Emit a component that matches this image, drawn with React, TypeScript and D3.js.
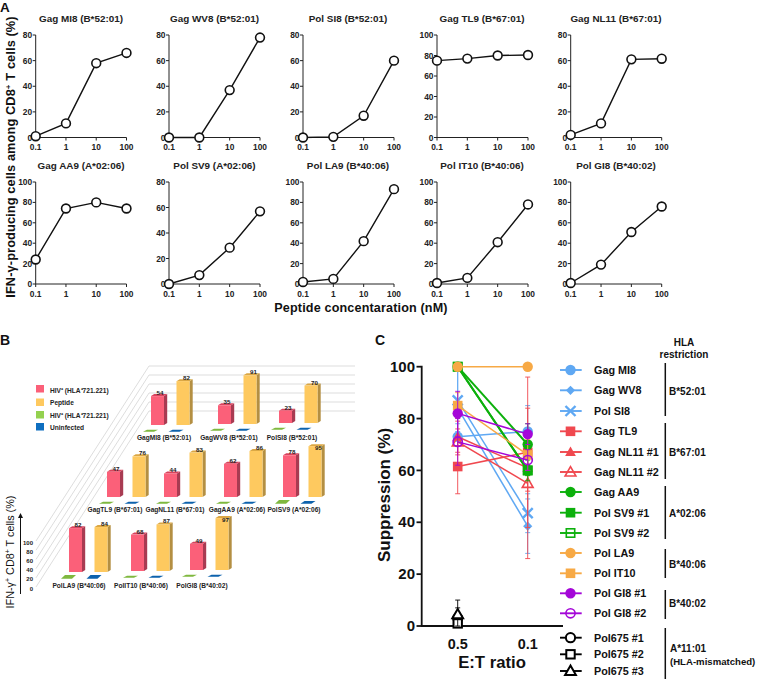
import React from 'react';
import * as d3 from 'd3';

const FONT = '"Liberation Sans", Arial, sans-serif';

// ---------- Panel A data ----------
const doses = [0.1, 1, 10, 100];
const doseLabels = ['0.1', '1', '10', '100'];
const titlesA = ['Gag MI8 (B*52:01)', 'Gag WV8 (B*52:01)', 'Pol SI8 (B*52:01)', 'Gag TL9 (B*67:01)', 'Gag NL11 (B*67:01)', 'Gag AA9 (A*02:06)', 'Pol SV9 (A*02:06)', 'Pol LA9 (B*40:06)', 'Pol IT10 (B*40:06)', 'Pol GI8 (B*40:02)'];
const yMaxA = [80, 80, 80, 100, 80, 100, 80, 100, 100, 100];
const gagMI8 = [1, 11, 58, 66];
const gagWV8 = [0, 0, 37, 78];
const polSI8 = [0, 0.5, 17, 60];
const gagTL9 = [75, 77, 80, 80.5];
const gagNL11 = [2, 11, 61, 61.5];
const gagAA9 = [24, 74, 80, 74];
const polSV9 = [0, 7, 28.5, 57];
const polLA9 = [2, 5, 42, 93];
const polIT10 = [1, 6, 41, 78];
const polGI8 = [1, 19, 51, 76];
const seriesA = [gagMI8, gagWV8, polSI8, gagTL9, gagNL11, gagAA9, polSV9, polLA9, polIT10, polGI8];

// ---------- Panel B data ----------
const namesB = [
  ['GagMI8 (B*52:01)', 'GagWV8 (B*52:01)', 'PolSI8 (B*52:01)'],
  ['GagTL9 (B*67:01)', 'GagNL11 (B*67:01)', 'GagAA9 (A*02:06)', 'PolSV9 (A*02:06)'],
  ['PolLA9 (B*40:06)', 'PolIT10 (B*40:06)', 'PolGI8 (B*40:02)'],
];
const hivValues = [[54, 35, 23], [47, 44, 62, 78], [82, 68, 49]];
const peptideValues = [[82, 91, 70], [76, 83, 86, 95], [84, 87, 97]];
const hivCtrlValues = [[2, 2, 2], [2, 2, 2, 5], [5, 2, 2]];
const uninfValues = [[2, 2, 2], [2, 2, 2, 3], [5, 2, 2]];
const legendB = ['HIV⁺ (HLA⁺721.221)', 'Peptide', 'HIV⁺ (HLA⁺721.221)', 'Uninfected'];
const gridTicksB = [0, 20, 40, 60, 80, 100];

// ---------- Panel C data ----------
const ratios = ['0.5', '0.1'];
const namesC = ['Gag MI8', 'Gag WV8', 'Pol SI8', 'Gag TL9', 'Gag NL11 #1', 'Gag NL11 #2', 'Gag AA9', 'Pol SV9 #1', 'Pol SV9 #2', 'Pol LA9', 'Pol IT10', 'Pol GI8 #1', 'Pol GI8 #2', 'Pol675 #1', 'Pol675 #2', 'Pol675 #3'];
const suppression: (number | null)[][] = [
  [73, 75], [84, 38.5], [87, 43.5],
  [61.5, 67], [73, 61], [71, 55],
  [100, 70], [100, 60], [100, 60],
  [100, 100], [85, 66],
  [82, 74], [71, 64],
  [3, null], [1, null], [4.5, null],
];
const suppressionErr: ([number, number] | null)[][] = [
  [null, [66, 85]], [[78, 100], [28, 49]], [[75, 100], [36, 51]],
  [[51, 72], [38, 96]], [[67, 79], [26, 84]], [[66, 76], [52, 58]],
  [null, [62, 78]], [null, [58, 62]], [null, [56, 64]],
  [null, null], [[80, 90], [60, 72]],
  [[73, 90.5], [70, 78]], [[62, 80], [60, 68]],
  [[0, 7], null], [[0, 4], null], [[0, 10], null],
];
const hlaGroups = ['B*52:01', 'B*67:01', 'A*02:06', 'B*40:06', 'B*40:02'];

// ---------- Layout and style ----------
const colsA = [[35.7, 126.5], [169, 260], [303, 394], [437, 528], [570.7, 661.7]];
const rowsA = [[137.5, 35], [284, 182]];
const titleXA = [81, 214.5, 348, 482, 616];
const barLayout = [
  { redX: [151, 218, 279], base: [425, 424, 423], label: [164, 229, 292], labelY: 439.5 },
  { redX: [107, 164, 224, 283], base: [497, 497, 497, 497], label: [115, 175, 237, 294], labelY: 511.5 },
  { redX: [69, 131, 190], base: [572, 571, 570], label: [79, 141, 202], labelY: 587.5 },
];
const markC = [
  { c: '#5fa8f3', s: 'circle', w: 1.5 }, { c: '#5fa8f3', s: 'diamond', w: 1.5 }, { c: '#5fa8f3', s: 'x', w: 1.5 },
  { c: '#f0484f', s: 'square', w: 1.5 }, { c: '#f0484f', s: 'triangle', w: 1.5 }, { c: '#f0484f', s: 'triangleOpen', w: 1.5 },
  { c: '#0cb00c', s: 'circle', w: 2 }, { c: '#0cb00c', s: 'square', w: 2 }, { c: '#0cb00c', s: 'squareOpen', w: 2 },
  { c: '#f7a945', s: 'circle', w: 1.5 }, { c: '#f7a945', s: 'square', w: 1.5 },
  { c: '#a406d8', s: 'circle', w: 1.5 }, { c: '#a406d8', s: 'circleOpen', w: 1.5 },
  { c: '#000', s: 'circleOpen', w: 1.5 }, { c: '#000', s: 'squareOpen', w: 1.5 }, { c: '#000', s: 'triangleOpen', w: 1.5 },
];
const legendYC = [370, 390.3, 411, 431.3, 452, 472, 492, 512.7, 533, 553, 573.3, 593.3, 613.3, 637.7, 654.3, 671];
const bracketsC = [[363, 416], [423, 479], [486, 539], [549, 578], [590, 619], [628, 679]];
const bracketLabelY = [391, 452, 513, 564, 603];

function Marker({ x, y, s, c }: { x: number; y: number; s: string; c: string }) {
  const open = s.endsWith('Open');
  const black = c === '#000';
  const fill = open ? (black ? '#fff' : 'none') : c;
  const stroke = open ? c : 'none';
  const sw = open ? (black ? 2 : 1.6) : 0;
  if (s === 'circle' || s === 'circleOpen') return <circle cx={x} cy={y} r={open ? 4.6 : 5.2} fill={fill} stroke={stroke} strokeWidth={sw} />;
  if (s === 'square' || s === 'squareOpen') return <rect x={x - (open ? 4.2 : 4.8)} y={y - (open ? 4.2 : 4.8)} width={open ? 8.4 : 9.6} height={open ? 8.4 : 9.6} fill={fill} stroke={stroke} strokeWidth={sw} />;
  if (s === 'diamond') return <path d={`M${x},${y - 4.6}L${x + 4.6},${y}L${x},${y + 4.6}L${x - 4.6},${y}Z`} fill={c} />;
  if (s === 'x') return <path d={`M${x - 5},${y - 5}L${x + 5},${y + 5}M${x - 5},${y + 5}L${x + 5},${y - 5}`} stroke={c} strokeWidth={2.4} fill="none" />;
  return <path d={`M${x},${y - 5.4}L${x + 5.4},${y + 4}L${x - 5.4},${y + 4}Z`} fill={fill} stroke={stroke} strokeWidth={sw} />;
}

function Bar3D({ x, base, h, w, front, side, top }: { x: number; base: number; h: number; w: number; front: string; side: string; top: string }) {
  const d = 3.2;
  return (
    <g>
      <path d={`M${x + w},${base}L${x + w + d},${base - 2}L${x + w + d},${base - h - 2}L${x + w},${base - h}Z`} fill={side} />
      <path d={`M${x},${base - h}L${x + d},${base - h - 2}L${x + w + d},${base - h - 2}L${x + w},${base - h}Z`} fill={top} />
      <rect x={x} y={base - h} width={w} height={h} fill={front} />
    </g>
  );
}

function PanelA({ idx }: { idx: number }) {
  const col = colsA[idx % 5];
  const row = rowsA[Math.floor(idx / 5)];
  const x = d3.scaleLog().domain([0.1, 100]).range(col);
  const y = d3.scaleLinear().domain([0, yMaxA[idx]]).range(row);
  const vals = seriesA[idx];
  const line = d3.line<number>().x((_, i) => x(doses[i])).y(d => y(d));
  return (
    <g fontFamily={FONT} fontWeight="bold" fill="#222">
      <text x={titleXA[idx % 5]} y={row[1] - 12.7} fontSize={9.9} textAnchor="middle">{titlesA[idx]}</text>
      <path d={`M${col[0]},${row[1]}V${row[0]}H${col[1]}`} fill="none" stroke="#222" strokeWidth={1} />
      {y.ticks(yMaxA[idx] / 20).map(t => (
        <g key={t}>
          <line x1={col[0] - 3} x2={col[0]} y1={y(t)} y2={y(t)} stroke="#222" strokeWidth={1} />
          <text x={col[0] - 3.5} y={y(t) + 3} fontSize={8.4} textAnchor="end">{t}</text>
        </g>
      ))}
      {doses.map((t, i) => (
        <g key={t}>
          <line x1={x(t)} x2={x(t)} y1={row[0]} y2={row[0] + 3} stroke="#222" strokeWidth={1} />
          <text x={x(t)} y={row[0] + 12.6} fontSize={8.4} textAnchor="middle">{doseLabels[i]}</text>
        </g>
      ))}
      <path d={line(vals) || ''} fill="none" stroke="#111" strokeWidth={1.4} />
      {vals.map((v, i) => <circle key={i} cx={x(doses[i])} cy={y(v)} r={4.4} fill="#fff" stroke="#111" strokeWidth={1.6} />)}
    </g>
  );
}

function PanelB() {
  const hScale = d3.scaleLinear().domain([0, 100]).range([0, 53.5]);
  const gridLeft = d3.scaleLinear().domain([0, 100]).range([587, 541]);
  const gridBack = d3.scaleLinear().domain([0, 100]).range([411, 366]);
  const w = 13;
  return (
    <g fontFamily={FONT}>
      {gridTicksB.map(t => (
        <g key={t}>
          <path d={`M36,${gridLeft(t)}L149,${gridBack(t)}H355`} fill="none" stroke="#cfcfcf" strokeWidth={0.7} />
          <text x={33} y={gridLeft(t) + 3.5} fontSize={6} fontWeight="bold" textAnchor="end" fill="#222">{t}</text>
        </g>
      ))}
      <path d="M20.5,594V516" stroke="#111" strokeWidth={1} />
      <path d="M20.5,513L18,518H23Z" fill="#111" />
      <text transform="translate(13.5,552) rotate(-90)" fontSize={10.8} textAnchor="middle" fill="#111">IFN-γ<tspan dy={-3.5} fontSize={7}>+</tspan><tspan dy={3.5}> CD8</tspan><tspan dy={-3.5} fontSize={7}>+</tspan><tspan dy={3.5}> T cells (%)</tspan></text>
      {barLayout.map((rowL, r) => rowL.redX.map((rx, g) => {
        const base = rowL.base[g];
        const yellowX = rx + 25.5;
        const hRed = hScale(hivValues[r][g]);
        const hYel = hScale(peptideValues[r][g]);
        const flat = (fx: number, v: number, col: string) => {
          const t = hScale(v) + 1;
          const y0 = base + 6.7;
          return <path d={`M${fx - 8},${y0}L${fx + 3},${y0}L${fx + 7},${y0 - t}L${fx - 4},${y0 - t}Z`} fill={col} />;
        };
        return (
          <g key={`${r}-${g}`}>
            <Bar3D x={rx} base={base} h={hRed} w={w} front="#fb6079" side="#a83b52" top="#d8445e" />
            <Bar3D x={yellowX} base={base} h={hYel} w={w} front="#fec95f" side="#b48f42" top="#dba744" />
            {flat(rx, hivCtrlValues[r][g], '#7fb83f')}
            {flat(yellowX, uninfValues[r][g], '#0d62ad')}
            <text x={rx + 9} y={base - hRed - 1} fontSize={6.2} fontWeight="bold" textAnchor="middle" fill="#222">{hivValues[r][g]}</text>
            <text x={yellowX + 10} y={base - hYel + (peptideValues[r][g] > 94 ? 4 : -1)} fontSize={6.2} fontWeight="bold" textAnchor="middle" fill="#222">{peptideValues[r][g]}</text>
            <text x={rowL.label[g]} y={rowL.labelY} fontSize={6.6} fontWeight="bold" textAnchor="middle" fill="#222">{namesB[r][g]}</text>
          </g>
        );
      }))}
      {legendB.map((t, i) => (
        <g key={i}>
          <rect x={36} y={[385, 398.5, 411, 423][i]} width={8} height={7.5} fill={['#fb6079', '#fec95f', '#94d14f', '#0f6fc0'][i]} />
          <text x={50} y={[393, 405, 418, 429.5][i]} fontSize={6.6} fontWeight="bold" fill="#222">{t}</text>
        </g>
      ))}
    </g>
  );
}

function PanelC() {
  const y = d3.scaleLinear().domain([0, 100]).range([626, 366.7]);
  const x = d3.scalePoint<string>().domain(ratios).range([457.7, 527.7]);
  return (
    <g fontFamily={FONT} fontWeight="bold" fill="#111">
      <path d="M421.7,365.7V626H563" fill="none" stroke="#111" strokeWidth={1.8} />
      {y.ticks(5).map(t => (
        <g key={t}>
          <line x1={416.5} x2={421} y1={y(t)} y2={y(t)} stroke="#111" strokeWidth={1.8} />
          <text x={415} y={y(t) + 5.2} fontSize={15} textAnchor="end">{t}</text>
        </g>
      ))}
      {ratios.map(r => <text key={r} x={x(r)} y={649} fontSize={14.4} textAnchor="middle">{r}</text>)}
      <text x={492} y={668} fontSize={16.7} textAnchor="middle">E:T ratio</text>
      <text transform="translate(390,495) rotate(-90)" fontSize={17} textAnchor="middle">Suppression (%)</text>
      {suppression.map((vals, i) => {
        const m = markC[i];
        const pts = ratios.map((r, j) => ({ r, v: vals[j] })).filter(p => p.v !== null) as { r: string; v: number }[];
        const line = d3.line<{ r: string; v: number }>().x(p => x(p.r) as number).y(p => y(p.v));
        return (
          <g key={i}>
            {pts.length > 1 && <path d={line(pts) || ''} fill="none" stroke={m.c} strokeWidth={m.w} />}
            {ratios.map((r, j) => {
              const e = suppressionErr[i][j];
              if (!e) return null;
              const cx = x(r) as number;
              return (
                <g key={r} stroke={m.c} strokeWidth={0.9}>
                  <line x1={cx} x2={cx} y1={y(e[0])} y2={y(e[1])} />
                  <line x1={cx - 2.5} x2={cx + 2.5} y1={y(e[0])} y2={y(e[0])} />
                  <line x1={cx - 2.5} x2={cx + 2.5} y1={y(e[1])} y2={y(e[1])} />
                </g>
              );
            })}
            {pts.map(p => <Marker key={p.r} x={x(p.r) as number} y={y(p.v)} s={m.s} c={m.c} />)}
          </g>
        );
      })}
      {namesC.map((n, i) => (
        <g key={n}>
          <line x1={560} x2={581.7} y1={legendYC[i]} y2={legendYC[i]} stroke={markC[i].c} strokeWidth={1.9} />
          <Marker x={570.5} y={legendYC[i]} s={markC[i].s} c={markC[i].c} />
          <text x={594} y={legendYC[i] + 3.8} fontSize={10.8}>{n}</text>
        </g>
      ))}
      {bracketsC.map((b, i) => <line key={i} x1={665.3} x2={665.3} y1={b[0]} y2={b[1]} stroke="#111" strokeWidth={1.5} />)}
      {hlaGroups.map((t, i) => <text key={t} x={669} y={bracketLabelY[i] + 3.5} fontSize={10}>{t}</text>)}
      <text x={670} y={651.5} fontSize={10}>A*11:01</text>
      <text x={670} y={665} fontSize={9.6}>(HLA-mismatched)</text>
      <text x={684} y={346} fontSize={10} textAnchor="middle">HLA</text>
      <text x={684} y={358} fontSize={10} textAnchor="middle">restriction</text>
    </g>
  );
}

export default function App() {
  return (
    <svg width={760} height={681} viewBox="0 0 760 681" style={{ position: 'absolute', left: 0, top: 0, background: '#fff' }}>
      <g fontFamily={FONT} fontWeight="bold" fill="#111">
        <text x={0} y={12.4} fontSize={13.5}>A</text>
        <text x={0} y={345} fontSize={14}>B</text>
        <text x={375} y={345} fontSize={14}>C</text>
        <text x={361} y={312} fontSize={12.6} textAnchor="middle" letterSpacing={0.15}>Peptide concentaration (nM)</text>
        <text transform="translate(15,157) rotate(-90)" fontSize={12.8} textAnchor="middle" letterSpacing={0.1}>IFN-γ-producing cells among CD8<tspan dy={-4} fontSize={8}>+</tspan><tspan dy={4}> T cells (%)</tspan></text>
      </g>
      {titlesA.map((_, i) => <PanelA key={i} idx={i} />)}
      <PanelB />
      <PanelC />
    </svg>
  );
}
